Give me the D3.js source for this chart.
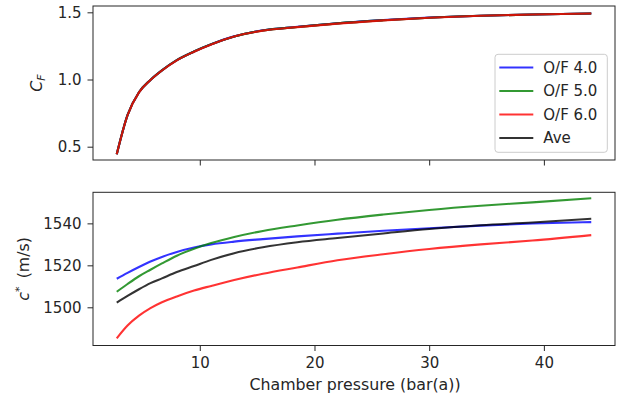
<!DOCTYPE html>
<html>
<head>
<meta charset="utf-8">
<script src="https://cdn.jsdelivr.net/npm/d3@7"></script>
<style>
  html, body { margin: 0; padding: 0; background: #fff; }
  svg { display: block; font-family: "DejaVu Sans", sans-serif; }
</style>
</head>
<body>
<svg id="chart" width="618" height="398"></svg>
<script>
// ---- data ----
const pressure = [2.76, 3.7, 4.7, 5.7, 6.7, 8, 9.5, 11, 13, 15.5, 18.5, 22, 26, 30, 34.5, 39, 44.13];

const cfOF4 = [0.444, 0.735, 0.905, 0.997, 1.068, 1.144, 1.208, 1.262, 1.321, 1.366, 1.392, 1.419, 1.443, 1.461, 1.475, 1.484, 1.491];
const cfOF5 = [0.444, 0.735, 0.905, 0.997, 1.068, 1.144, 1.208, 1.262, 1.320, 1.365, 1.391, 1.418, 1.441, 1.460, 1.474, 1.484, 1.491];
const cfOF6 = [0.444, 0.734, 0.904, 0.996, 1.067, 1.143, 1.207, 1.261, 1.320, 1.364, 1.390, 1.416, 1.440, 1.459, 1.474, 1.484, 1.491];
const cfAve = [0.444, 0.735, 0.905, 0.997, 1.068, 1.144, 1.208, 1.262, 1.320, 1.365, 1.391, 1.418, 1.441, 1.460, 1.474, 1.484, 1.491];

const cstarOF4 = [1513.6, 1516.4, 1519.2, 1521.8, 1524.0, 1526.4, 1528.5, 1530.0, 1531.3, 1532.5, 1533.8, 1535.1, 1536.5, 1537.7, 1538.9, 1539.9, 1540.6];
const cstarOF5 = [1507.4, 1511.1, 1514.8, 1517.9, 1520.9, 1524.6, 1527.9, 1530.6, 1533.5, 1536.4, 1539.0, 1541.7, 1544.2, 1546.4, 1548.4, 1550.0, 1552.0];
const cstarOF6 = [1485.2, 1491.3, 1496.0, 1499.6, 1502.4, 1505.2, 1508.0, 1510.2, 1513.0, 1516.0, 1519.0, 1522.4, 1525.3, 1527.8, 1530.0, 1531.8, 1534.4];
const cstarAve = [1502.2, 1505.4, 1508.6, 1511.5, 1513.8, 1516.8, 1519.7, 1522.6, 1525.8, 1528.6, 1531.0, 1533.0, 1535.2, 1537.3, 1539.1, 1540.4, 1542.2];

const seriesNames = ["O/F 4.0", "O/F 5.0", "O/F 6.0", "Ave"];
const seriesColors = ["rgba(0,0,255,0.8)", "rgba(0,128,0,0.8)", "rgba(255,0,0,0.8)", "rgba(0,0,0,0.8)"];

const xTicks = [10, 20, 30, 40];
const cfTicks = [0.5, 1.0, 1.5];
const cstarTicks = [1500, 1520, 1540];

// ---- layout ----
const svg = d3.select("#chart");
const left = 93, right = 615;
const top1 = 6, bot1 = 160;
const top2 = 192.3, bot2 = 345.5;
const fontSize = 15;
const labelSize = 15.8;
const textColor = "#262626";

const x = d3.scaleLinear().domain([0.69, 46.2]).range([left, right]);
const y1 = d3.scaleLinear().domain([0.401, 1.547]).range([bot1, top1]);
const y2 = d3.scaleLinear().domain([1481.8, 1554.8]).range([bot2, top2]);

function styleAxis(g) {
  g.selectAll("path.domain").remove();
  g.selectAll(".tick line").attr("stroke", textColor).attr("stroke-width", 1);
  g.selectAll(".tick text").attr("fill", textColor).attr("font-size", fontSize)
    .attr("font-family", "DejaVu Sans, sans-serif");
}

function drawPanel(yScale, yTicks, yFmt, topY, botY, seriesList, order, showXLabels) {
  const xa = svg.append("g").attr("transform", `translate(0,${botY})`)
    .call(d3.axisBottom(x).tickValues(xTicks).tickSize(5.5).tickPadding(6)
      .tickFormat(showXLabels ? d3.format("d") : () => ""));
  styleAxis(xa);
  const ya = svg.append("g").attr("transform", `translate(${left},0)`)
    .call(d3.axisLeft(yScale).tickValues(yTicks).tickSize(5.5).tickPadding(6).tickFormat(yFmt));
  styleAxis(ya);

  const clipId = "clip" + Math.round(topY);
  svg.append("clipPath").attr("id", clipId).append("rect")
    .attr("x", left).attr("y", topY).attr("width", right - left).attr("height", botY - topY);

  const line = d3.line().x((d, i) => x(pressure[i])).y(d => yScale(d)).curve(d3.curveMonotoneX);
  const lg = svg.append("g").attr("clip-path", `url(#${clipId})`);
  order.forEach(k => {
    lg.append("path").datum(seriesList[k])
      .attr("fill", "none").attr("stroke", seriesColors[k])
      .attr("stroke-width", 2.1).attr("stroke-linejoin", "round").attr("stroke-linecap", "butt")
      .attr("d", line);
  });

  svg.append("rect").attr("x", left).attr("y", topY)
    .attr("width", right - left).attr("height", botY - topY)
    .attr("fill", "none").attr("stroke", textColor).attr("stroke-width", 1);
}

drawPanel(y1, cfTicks, d3.format(".1f"), top1, bot1, [cfOF4, cfOF5, cfOF6, cfAve], [3, 0, 1, 2], false);
drawPanel(y2, cstarTicks, d3.format("d"), top2, bot2, [cstarOF4, cstarOF5, cstarOF6, cstarAve], [0, 1, 2, 3], true);

// y labels
const yl1 = svg.append("text")
  .attr("transform", `translate(41.5,${(top1 + bot1) / 2}) rotate(-90)`)
  .attr("text-anchor", "middle").attr("fill", textColor).attr("font-size", labelSize);
yl1.append("tspan").attr("font-style", "italic").text("C");
yl1.append("tspan").attr("font-style", "italic").attr("font-size", labelSize * 0.7).attr("dy", 3).text("F");

const yl2 = svg.append("text")
  .attr("transform", `translate(28.5,${(top2 + bot2) / 2}) rotate(-90)`)
  .attr("text-anchor", "middle").attr("fill", textColor).attr("font-size", labelSize);
yl2.append("tspan").attr("font-style", "italic").text("c");
yl2.append("tspan").attr("font-size", labelSize * 0.7).attr("dy", -6).text("*");
yl2.append("tspan").attr("dy", 6).text("\u2009 (m/s)");

// x label
svg.append("text").attr("x", (left + right) / 2 + 1).attr("y", 389.5)
  .attr("text-anchor", "middle").attr("fill", textColor).attr("font-size", labelSize)
  .text("Chamber pressure (bar(a))");

// legend
const leg = svg.append("g");
leg.append("rect").attr("x", 495).attr("y", 54.3).attr("width", 112.3).attr("height", 98)
  .attr("rx", 3).attr("fill", "rgba(255,255,255,0.8)").attr("stroke", "#cccccc").attr("stroke-width", 1);
seriesNames.forEach((name, i) => {
  const cy = 67.5 + i * 23.5;
  leg.append("line").attr("x1", 499.3).attr("x2", 533.3).attr("y1", cy).attr("y2", cy)
    .attr("stroke", seriesColors[i]).attr("stroke-width", 2.1);
  leg.append("text").attr("x", 543.3).attr("y", cy + 5.3)
    .attr("fill", textColor).attr("font-size", fontSize).text(name);
});
</script>
</body>
</html>
